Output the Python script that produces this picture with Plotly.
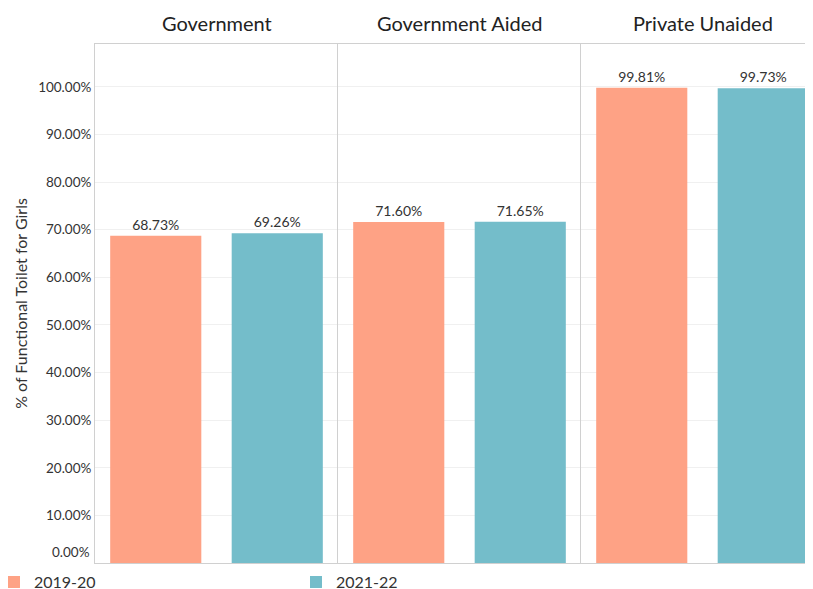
import plotly.graph_objects as go
from plotly.subplots import make_subplots

# ---- data ----
groups = ["Government", "Government Aided", "Private Unaided"]
years = ["2019-20", "2021-22"]
values_2019_20 = [68.73, 71.60, 99.81]
values_2021_22 = [69.26, 71.65, 99.73]
ytick_values = [10, 20, 30, 40, 50, 60, 70, 80, 90, 100]
ytick_labels = [f"{v:.2f}%" for v in ytick_values]

colors = {"2019-20": "#FEA285", "2021-22": "#74BDCA"}
FONT = "Lato, 'Open Sans', sans-serif"
TXT = "#333333"
LINE = "#d0d0d0"

fig = make_subplots(rows=1, cols=3, column_widths=[243, 243, 232],
                    horizontal_spacing=0, shared_yaxes=True)

series = {"2019-20": values_2019_20, "2021-22": values_2021_22}
for gi, g in enumerate(groups):
    for yr in years:
        v = series[yr][gi]
        fig.add_trace(go.Bar(
            x=[yr], y=[v], name=yr, legendgroup=yr, showlegend=(gi == 0),
            marker=dict(color=colors[yr], line=dict(width=0)),
            text=[f"{v:.2f}%"], textposition="outside",
            textfont=dict(size=14, color=TXT, family=FONT),
            cliponaxis=False,
        ), row=1, col=gi + 1)

full_unit = 243 / 2.0
for i in range(3):
    xr = [-0.5, 1.5] if i < 2 else [-0.5, -0.5 + 232 / full_unit]
    fig.update_xaxes(range=xr, showticklabels=False, ticks="", showline=True,
                     linecolor=LINE, linewidth=1, mirror=True, showgrid=False,
                     zeroline=False, automargin=False, row=1, col=i + 1)
    fig.update_yaxes(range=[0, 109], tickvals=ytick_values, ticktext=ytick_labels,
                     showline=True, linecolor=LINE, linewidth=1, showgrid=True,
                     gridcolor="#f0f0f0", gridwidth=1, zeroline=False, ticks="",
                     tickfont=dict(size=13.5, color=TXT, family=FONT),
                     automargin=False, row=1, col=i + 1)
    fig.add_annotation(text=groups[i], xref=f"x{'' if i == 0 else i + 1} domain",
                       yref="paper", x=0.5 if i < 2 else 121.5 / 232, y=1.0,
                       yanchor="bottom", yshift=7, showarrow=False,
                       font=dict(size=20, color="#222222", family=FONT))

fig.update_yaxes(title=dict(text="% of Functional Toilet for Girls",
                            font=dict(size=16, color=TXT, family=FONT), standoff=6),
                 row=1, col=1)
fig.update_yaxes(showticklabels=False, row=1, col=2)
fig.update_yaxes(showticklabels=False, row=1, col=3)

# zero label sits slightly above the baseline, as in the original
fig.add_annotation(text="0.00%", xref="paper", yref="y", x=0, y=0, xanchor="right",
                   yanchor="bottom", xshift=-3, yshift=1, showarrow=False,
                   font=dict(size=13.5, color=TXT, family=FONT))

# the page body has an 8px margin, so the figure is sized to fill the rest
fig.update_layout(
    width=805, height=581,
    margin=dict(l=87, r=0, t=36, b=26, autoexpand=False),
    paper_bgcolor="white", plot_bgcolor="white",
    barmode="group", bargap=0.25,
    font=dict(family=FONT, color=TXT),
    legend=dict(orientation="h", x=-0.1407, xanchor="left", y=-0.004, yanchor="top",
                bgcolor="rgba(0,0,0,0)",
                entrywidth=257, entrywidthmode="pixels",
                font=dict(size=16, color=TXT, family=FONT),
                itemsizing="constant", tracegroupgap=0),
)

fig.write_html("out.html")
